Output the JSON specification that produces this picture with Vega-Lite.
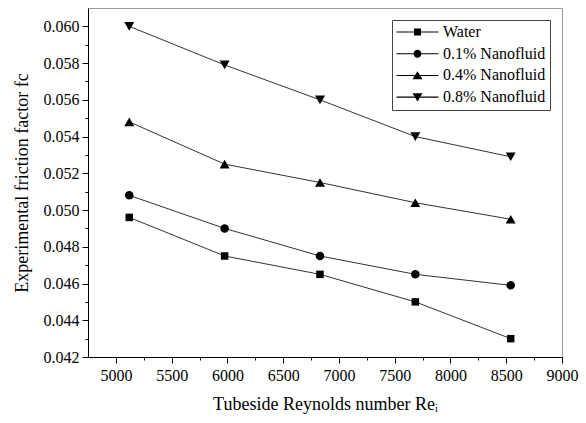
{
  "$schema": "https://vega.github.io/schema/vega-lite/v6.json",
  "width": 474,
  "height": 349,
  "autosize": {"type": "none"},
  "padding": {"left": 88, "top": 8, "right": 24, "bottom": 66},
  "background": "white",
  "config": {
    "view": {"stroke": "#9a9a9a", "strokeWidth": 1},
    "font": "'Liberation Serif', 'Times New Roman', Times, serif"
  },
  "data": {
    "values": [
      {"re": 5120, "f": 0.0496, "s": "Water"},
      {"re": 5975, "f": 0.0475, "s": "Water"},
      {"re": 6830, "f": 0.0465, "s": "Water"},
      {"re": 7685, "f": 0.0450, "s": "Water"},
      {"re": 8540, "f": 0.0430, "s": "Water"},
      {"re": 5120, "f": 0.0508, "s": "0.1% Nanofluid"},
      {"re": 5975, "f": 0.0490, "s": "0.1% Nanofluid"},
      {"re": 6830, "f": 0.0475, "s": "0.1% Nanofluid"},
      {"re": 7685, "f": 0.0465, "s": "0.1% Nanofluid"},
      {"re": 8540, "f": 0.0459, "s": "0.1% Nanofluid"},
      {"re": 5120, "f": 0.0548, "s": "0.4% Nanofluid"},
      {"re": 5975, "f": 0.0525, "s": "0.4% Nanofluid"},
      {"re": 6830, "f": 0.0515, "s": "0.4% Nanofluid"},
      {"re": 7685, "f": 0.0504, "s": "0.4% Nanofluid"},
      {"re": 8540, "f": 0.0495, "s": "0.4% Nanofluid"},
      {"re": 5120, "f": 0.0600, "s": "0.8% Nanofluid"},
      {"re": 5975, "f": 0.0579, "s": "0.8% Nanofluid"},
      {"re": 6830, "f": 0.0560, "s": "0.8% Nanofluid"},
      {"re": 7685, "f": 0.0540, "s": "0.8% Nanofluid"},
      {"re": 8540, "f": 0.0529, "s": "0.8% Nanofluid"}
    ]
  },
  "encoding": {
    "x": {
      "field": "re", "type": "quantitative",
      "scale": {"domain": [4750, 9000], "nice": false, "zero": false},
      "axis": {
        "title": "Tubeside Reynolds number Reᵢ",
        "values": [5000, 5250, 5500, 5750, 6000, 6250, 6500, 6750, 7000, 7250, 7500, 7750, 8000, 8250, 8500, 8750, 9000],
        "format": "d",
        "labelExpr": "datum.value % 500 == 0 ? datum.label : ''",
        "tickSize": {"condition": {"test": "datum.value % 500 == 0", "value": 6}, "value": 3},
        "grid": false,
        "domainColor": "black", "tickColor": "black",
        "labelFontSize": 16, "labelColor": "black", "labelPadding": 4,
        "labelFlush": false, "labelOverlap": false,
        "titleFontSize": 18, "titleFontWeight": "normal", "titleColor": "black", "titlePadding": 12
      }
    },
    "y": {
      "field": "f", "type": "quantitative",
      "scale": {"domain": [0.042, 0.061], "nice": false, "zero": false},
      "axis": {
        "title": "Experimental friction factor fc",
        "values": [0.042, 0.043, 0.044, 0.045, 0.046, 0.047, 0.048, 0.049, 0.050, 0.051, 0.052, 0.053, 0.054, 0.055, 0.056, 0.057, 0.058, 0.059, 0.060],
        "labelExpr": "round(datum.value * 1000) % 2 == 0 ? format(datum.value, '.3f') : ''",
        "tickSize": {"condition": {"test": "round(datum.value * 1000) % 2 == 0", "value": 6}, "value": 3},
        "grid": false,
        "domainColor": "black", "tickColor": "black",
        "labelFontSize": 16, "labelColor": "black", "labelPadding": 3,
        "labelFlush": false, "labelOverlap": false,
        "titleFontSize": 18, "titleFontWeight": "normal", "titleColor": "black", "titlePadding": 12
      }
    }
  },
  "layer": [
    {
      "mark": {"type": "line", "color": "#333333", "strokeWidth": 1},
      "encoding": {"detail": {"field": "s"}}
    },
    {
      "transform": [{"filter": "datum.s === 'Water'"}],
      "mark": {"type": "point", "filled": true, "color": "black", "opacity": 1, "shape": "square", "size": 56}
    },
    {
      "transform": [{"filter": "datum.s === '0.1% Nanofluid'"}],
      "mark": {"type": "point", "filled": true, "color": "black", "opacity": 1, "shape": "circle", "size": 72}
    },
    {
      "transform": [{"filter": "datum.s === '0.4% Nanofluid'"}],
      "mark": {"type": "point", "filled": true, "color": "black", "opacity": 1, "shape": "triangle-up", "size": 100}
    },
    {
      "transform": [{"filter": "datum.s === '0.8% Nanofluid'"}],
      "mark": {"type": "point", "filled": true, "color": "black", "opacity": 1, "shape": "triangle-down", "size": 100}
    },
    {
      "mark": {"type": "point", "filled": true, "color": "black", "opacity": 0},
      "encoding": {
        "shape": {
          "field": "s", "type": "nominal",
          "scale": {
            "domain": ["Water", "0.1% Nanofluid", "0.4% Nanofluid", "0.8% Nanofluid"],
            "range": [
              "M-1,-0.07H1.33V0.07H-1ZM2.27,-0.07H4.6V0.07H2.27ZM1.33,-0.47H2.27V0.47H1.33Z",
              "M-1,-0.07H1.27V0.07H-1ZM2.33,-0.07H4.6V0.07H2.33ZM1.27,0A0.53,0.53,0,1,1,2.33,0A0.53,0.53,0,1,1,1.27,0Z",
              "M-1,-0.07H1.45V0.07H-1ZM2.15,-0.07H4.6V0.07H2.15ZM1.8,-0.57L2.47,0.5H1.13Z",
              "M-1,-0.07H1.45V0.07H-1ZM2.15,-0.07H4.6V0.07H2.15ZM1.8,0.57L2.47,-0.5H1.13Z"
            ]
          },
          "legend": {
            "title": null,
            "orient": "top-right",
            "offset": 12,
            "padding": 4,
            "strokeColor": "#444444",
            "fillColor": "white",
            "symbolSize": 225,
            "symbolOpacity": 1,
            "symbolFillColor": "black",
            "symbolStrokeWidth": 0,
            "labelFontSize": 16,
            "labelColor": "black",
            "labelOffset": 31,
            "rowPadding": 5.7
          }
        }
      }
    }
  ]
}
